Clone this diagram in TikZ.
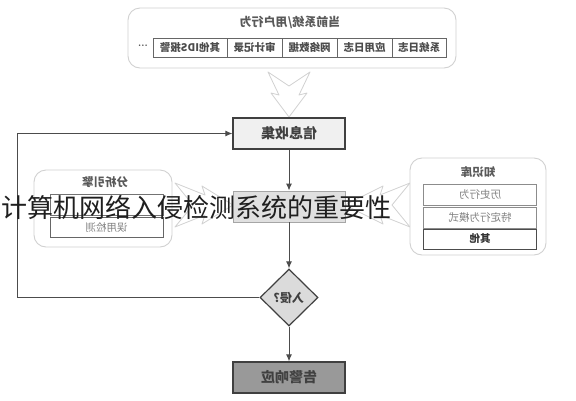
\documentclass[tikz,border=0pt]{standalone}
\usepackage{fontspec}
\usepackage{graphicx}
\newfontfamily\cjk{Noto Sans CJK SC}
\usetikzlibrary{shapes.geometric,arrows.meta}
\newcommand{\mir}[1]{\reflectbox{#1}}
\tikzset{
  panel/.style={draw=black!18, line width=0.9pt, rounded corners=12pt, fill=white, inner sep=0},
  ptitle/.style={inner sep=0, font=\cjk\bfseries\fontsize{11.5}{11.5}\selectfont, text=black!65},
  cell/.style={draw=black!60, line width=0.8pt, fill=white, inner sep=0, minimum height=19pt, font=\cjk\bfseries\fontsize{10.5}{10.5}\selectfont, text=black!70},
  kcell/.style={draw=black!45, line width=0.8pt, fill=white, inner sep=0, minimum width=113pt, minimum height=21pt, font=\cjk\fontsize{10.5}{10.5}\selectfont, text=black!50},
  mainbox/.style={draw=black!75, line width=1.2pt, minimum width=112pt, minimum height=31pt, inner sep=0, font=\cjk\bfseries\fontsize{14}{14}\selectfont, text=black!75},
  flow/.style={draw=black!70, line width=1pt, -{Latex[length=7pt,width=6pt]}},
  chev/.style={draw=black!18, fill=white, line width=0.8pt, line join=round}
}
\begin{document}
\begin{tikzpicture}[x=1pt,y=-1pt]
\useasboundingbox[fill=white] (0,0) rectangle (576,400);

% top panel
\node[panel, minimum width=328pt, minimum height=60pt] (top) at (292,38) {};
\node[ptitle, font=\cjk\bfseries\fontsize{12}{12}\selectfont] (toptitle) at (290,22) {\mir{当前系统/用户行为}};
\node[inner sep=0, font=\bfseries, text=black!70] (dots) at (143,46) {...};
\node[cell, minimum width=74pt] (c1) at (190,47.5) {\mir{其他IDS报警}};
\node[cell, minimum width=55pt] (c2) at (254.5,47.5) {\mir{审计记录}};
\node[cell, minimum width=55pt] (c3) at (309.5,47.5) {\mir{网络数据}};
\node[cell, minimum width=55pt] (c4) at (364.5,47.5) {\mir{应用日志}};
\node[cell, minimum width=54pt] (c5) at (419,47.5) {\mir{系统日志}};

% big chevron arrows
\draw[chev] (268,72) -- (289,86) -- (310,72) -- (299,95) -- (307,93) -- (289,117) -- (271,93) -- (279,95) -- cycle;
\draw[chev] (175,183) -- (193,205) -- (175,227) -- (205,215) -- (202,224) -- (233,205) -- (202,186) -- (205,195) -- cycle;
\draw[chev] (410,183) -- (392,205) -- (410,227) -- (380,215) -- (383,224) -- (345,205) -- (383,186) -- (380,195) -- cycle;

% analysis engine panel
\node[panel, minimum width=138pt, minimum height=77pt] (ana) at (103,208.5) {};
\node[ptitle] (anatitle) at (105,182) {\mir{分析引擎}};
\node[kcell, draw=black!55] (ana1) at (106.5,205) {};
\node[kcell, draw=black!60, minimum height=20pt] (ana2) at (106.5,227) {\mir{误用检测}};

% knowledge base panel
\node[panel, minimum width=136pt, minimum height=97pt] (kb) at (478,206.5) {};
\node[ptitle] (kbtitle) at (478,172) {\mir{知识库}};
\node[kcell] (k1) at (480,194.5) {\mir{历史行为}};
\node[kcell] (k2) at (480,217.5) {\mir{特定行为模式}};
\node[kcell, draw=black!70, line width=1pt, minimum height=20pt, text=black!80, font=\cjk\bfseries\fontsize{10.5}{10.5}\selectfont] (k3) at (480,239) {\mir{其他}};

% main flow
\node[mainbox, fill=black!6] (info) at (289,133.5) {\mir{信息收集}};
\node[mainbox, draw=black!35, line width=0.9pt, fill=black!12] (mid) at (289,206.5) {};
\node[diamond, draw=black!75, line width=1.2pt, fill=black!14, minimum width=58pt, minimum height=57pt, inner sep=0, font=\cjk\bfseries\fontsize{12}{12}\selectfont, text=black!75] (dia) at (289,297.5) {\mir{入侵?}};
\node[mainbox, fill=black!40] (alarm) at (289,377.5) {\mir{告警响应}};

\draw[flow] (info.south) -- (mid.north);
\draw[flow] (mid.south) -- (dia.north);
\draw[flow] (dia.south) -- (alarm.north);
\coordinate (fbB) at (17,297.5);
\coordinate (fbT) at (17,133.5);
\draw[flow] (dia.west) -- (fbB) -- (fbT) -- (info.west);

% overlay caption
\node[anchor=west, inner sep=0, font=\cjk\fontsize{26}{26}\selectfont, text=black!88] (caption) at (1,207) {计算机网络入侵检测系统的重要性};
\end{tikzpicture}
\end{document}
